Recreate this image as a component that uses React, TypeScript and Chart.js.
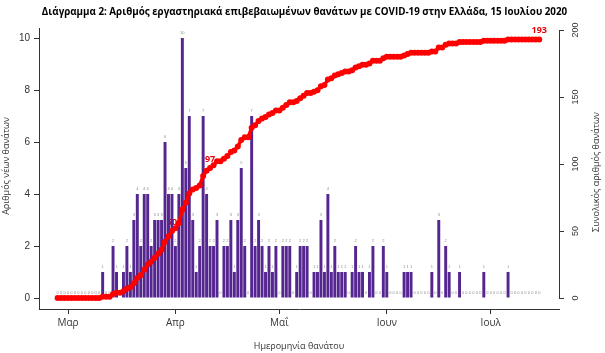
import React, { useEffect, useRef } from 'react';
import { Chart, registerables } from 'chart.js';

Chart.register(...registerables);

// ---- Data ----
const START_DATE = '2020-02-27';
const AXIS_ORIGIN = '2020-03-01';

// daily laboratory-confirmed deaths by date of death, 27 Feb .. 15 Jul 2020
const dailyDeaths = [
  0, 0, 0, 0, 0, 0, 0, 0, 0, 0, 0, 0, 0,
  1, 0, 0, 2, 1, 0, 1, 2, 1, 3,
  4, 2, 4, 4, 2, 3, 3, 3, 6, 4,
  4, 2, 4, 10, 5, 7, 3, 1, 2, 7,
  4, 2, 2, 3, 0, 2, 2, 3, 1, 3,
  5, 2, 0, 7, 2, 3, 2, 1, 2, 1,
  2, 0, 2, 2, 2, 0, 1, 2, 2, 2,
  0, 1, 1, 3, 1, 4, 1, 2, 1, 1,
  1, 0, 1, 2, 1, 1, 0, 1, 2, 0,
  0, 2, 1, 0, 0, 0, 0, 1, 1, 1,
  0, 0, 0, 0, 0, 1, 0, 3, 0, 2,
  1, 0, 0, 1, 0, 0, 0, 0, 0, 0,
  1, 0, 0, 0, 0, 0, 0, 1, 0, 0,
  0, 0, 0, 0, 0, 0, 0,
];

const monthTickDates = ['2020-03-01', '2020-04-01', '2020-05-01', '2020-06-01', '2020-07-01'];
const monthTickLabels = ['Μαρ', 'Απρ', 'Μαΐ', 'Ιουν', 'Ιουλ'];
const leftTicks = [0, 2, 4, 6, 8, 10];
const rightTicks = [0, 50, 100, 150, 200];
const labelledDates = ['2020-03-31', '2020-04-11', '2020-07-15'];

const TITLE = 'Διάγραμμα 2: Αριθμός εργαστηριακά επιβεβαιωμένων θανάτων με COVID-19 στην Ελλάδα, 15 Ιουλίου 2020';
const X_TITLE = 'Ημερομηνία θανάτου';
const Y_TITLE = 'Αριθμός νέων θανάτων';
const Y1_TITLE = 'Συνολικός αριθμός θανάτων';

// ---- Derived ----
const DAY = 86400000;
const dayOffset = (iso: string) => Math.round((Date.parse(iso) - Date.parse(AXIS_ORIGIN)) / DAY);
const dates = dailyDeaths.map((_, i) => new Date(Date.parse(START_DATE) + i * DAY).toISOString().slice(0, 10));
const xs = dates.map(dayOffset);
const cumulative: number[] = [];
dailyDeaths.forEach((v, i) => cumulative.push((i ? cumulative[i - 1] : 0) + v));

const X_MIN = -8.37;
const X_MAX = 141.7;
const Y_MIN = -0.423;
const Y_MAX = 10.385;
const Y1_MIN = -8.21;
const Y1_MAX = 201.49;

const BAR_COLOR = '#55268f';
const LINE_COLOR = '#ff0000';
const AXIS_COLOR = '#333333';

const overlayPlugin = {
  id: 'overlay',
  beforeDatasetsDraw(chart: any) {
    const ctx = chart.ctx;
    const x = chart.scales.x;
    const y = chart.scales.y;
    const y1 = chart.scales.y1;
    ctx.save();
    ctx.textAlign = 'center';
    ctx.textBaseline = 'middle';
    ctx.font = '4px "Liberation Sans"';
    ctx.fillStyle = '#8c8c8c';
    xs.forEach((d, i) => {
      ctx.fillText(String(dailyDeaths[i]), x.getPixelForValue(d), y.getPixelForValue(dailyDeaths[i]) - 5);
    });
    ctx.font = 'bold 9px "Open Sans"';
    ctx.fillStyle = '#e8000b';
    labelledDates.forEach((dt) => {
      const i = dates.indexOf(dt);
      if (i < 0) return;
      ctx.fillText(String(cumulative[i]), x.getPixelForValue(xs[i]), y1.getPixelForValue(cumulative[i]) - 9);
    });
    ctx.restore();
  },
  afterDraw(chart: any) {
    const ctx = chart.ctx;
    const area = chart.chartArea;
    const y1 = chart.scales.y1;
    ctx.save();
    // title
    ctx.fillStyle = '#000';
    ctx.textAlign = 'center';
    ctx.textBaseline = 'middle';
    ctx.font = 'bold 9.8px "Open Sans"';
    ctx.fillText(TITLE, 304.5, 12);
    // x title
    ctx.fillStyle = '#333';
    ctx.font = '9px "Open Sans"';
    ctx.fillText(X_TITLE, (area.left + area.right) / 2, 346);
    // left title
    ctx.save();
    ctx.translate(6, 166);
    ctx.rotate(-Math.PI / 2);
    ctx.fillText(Y_TITLE, 0, 0);
    ctx.restore();
    // right title
    ctx.save();
    ctx.translate(596, 172);
    ctx.rotate(-Math.PI / 2);
    ctx.fillText(Y1_TITLE, 0, 0);
    ctx.restore();
    // right axis
    const r = area.right;
    ctx.strokeStyle = AXIS_COLOR;
    ctx.lineWidth = 1;
    ctx.beginPath();
    ctx.moveTo(r + 0.5, y1.getPixelForValue(rightTicks[0]));
    ctx.lineTo(r + 0.5, y1.getPixelForValue(rightTicks[rightTicks.length - 1]));
    rightTicks.forEach((t) => {
      const py = Math.round(y1.getPixelForValue(t)) + 0.5;
      ctx.moveTo(r, py);
      ctx.lineTo(r + 5, py);
    });
    ctx.stroke();
    ctx.font = '9px "Liberation Sans"';
    ctx.fillStyle = '#333';
    rightTicks.forEach((t) => {
      ctx.save();
      ctx.translate(r + 17, y1.getPixelForValue(t));
      ctx.rotate(-Math.PI / 2);
      ctx.fillText(String(t), 0, 0);
      ctx.restore();
    });
    ctx.restore();
  },
};

export default function App() {
  const canvasRef = useRef<HTMLCanvasElement | null>(null);

  useEffect(() => {
    const canvas = canvasRef.current;
    if (!canvas) return;
    const chart = new Chart(canvas, {
      type: 'bar',
      data: {
        datasets: [
          {
            type: 'line',
            label: Y1_TITLE,
            data: xs.map((x, i) => ({ x, y: cumulative[i] })),
            yAxisID: 'y1',
            borderColor: LINE_COLOR,
            backgroundColor: LINE_COLOR,
            borderWidth: 3.5,
            pointRadius: 3,
            pointBorderWidth: 0,
            pointBackgroundColor: LINE_COLOR,
            tension: 0,
            order: 0,
          } as any,
          {
            type: 'bar',
            label: Y_TITLE,
            data: xs.map((x, i) => ({ x, y: dailyDeaths[i] })),
            yAxisID: 'y',
            backgroundColor: BAR_COLOR,
            categoryPercentage: 1,
            barPercentage: 0.85,
            order: 1,
          } as any,
        ],
      },
      options: {
        animation: false,
        responsive: false,
        devicePixelRatio: 1,
        layout: { padding: { top: 28, right: 46, left: 0, bottom: 0 } },
        plugins: {
          legend: { display: false },
          tooltip: { enabled: false },
          title: { display: false },
        },
        scales: {
          x: {
            type: 'linear',
            min: X_MIN,
            max: X_MAX,
            offset: false,
            afterBuildTicks: (s: any) => {
              s.ticks = monthTickDates.map((d) => ({ value: dayOffset(d) }));
            },
            afterFit: (s: any) => {
              s.height = 44;
            },
            ticks: {
              autoSkip: false,
              maxRotation: 0,
              minRotation: 0,
              padding: 3,
              color: '#333',
              font: { family: 'Open Sans', size: 10 },
              callback: (v: any) => {
                const i = monthTickDates.findIndex((d) => dayOffset(d) === v);
                return i >= 0 ? monthTickLabels[i] : '';
              },
            },
            grid: { display: true, offset: false, drawOnChartArea: false, drawTicks: true, tickLength: 5, tickColor: AXIS_COLOR },
            border: { display: true, color: AXIS_COLOR, width: 1 },
          },
          y: {
            type: 'linear',
            position: 'left',
            min: Y_MIN,
            max: Y_MAX,
            afterBuildTicks: (s: any) => {
              s.ticks = leftTicks.map((v) => ({ value: v }));
            },
            afterFit: (s: any) => {
              s.width = 39;
            },
            ticks: {
              padding: 4,
              color: '#333',
              font: { family: 'Liberation Sans', size: 10 },
            },
            grid: { display: true, offset: false, drawOnChartArea: false, drawTicks: true, tickLength: 5, tickColor: AXIS_COLOR },
            border: { display: true, color: AXIS_COLOR, width: 1 },
          },
          y1: {
            type: 'linear',
            position: 'right',
            display: false,
            min: Y1_MIN,
            max: Y1_MAX,
          },
        },
      } as any,
      plugins: [overlayPlugin],
    });
    return () => chart.destroy();
  }, []);

  return (
    <div style={{ position: 'absolute', left: 0, top: 0, width: 605, height: 353, background: '#fff' }}>
      <canvas ref={canvasRef} width={605} height={353} style={{ display: 'block', width: 605, height: 353 }} />
    </div>
  );
}
